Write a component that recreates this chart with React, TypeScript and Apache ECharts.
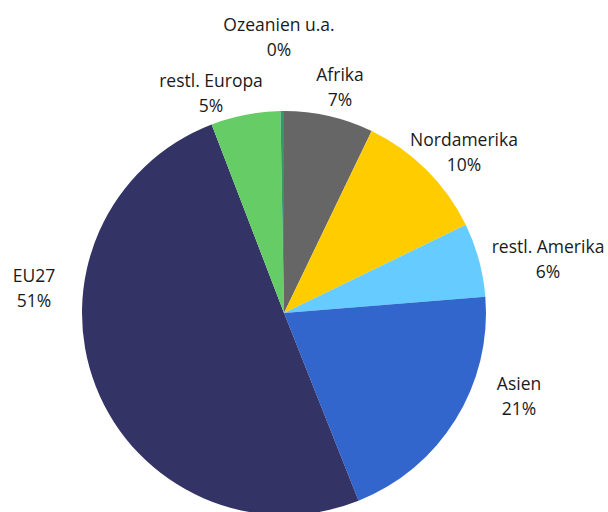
import React, { useEffect, useRef } from "react";
import * as echarts from "echarts";

const regions = ["Afrika", "Nordamerika", "restl. Amerika", "Asien", "EU27", "restl. Europa", "Ozeanien u.a."];
const shares = [7.14, 10.67, 5.9, 20.27, 50.18, 5.55, 0.28];
const shownPct = [7, 10, 6, 21, 51, 5, 0];
const colors = ["#666666", "#FFCC00", "#66CCFF", "#3366CC", "#333366", "#66CC66", "#339966"];
const labelPos: [number, number][] = [
  [340, 86],
  [464, 151],
  [548, 258],
  [519, 395],
  [34, 287],
  [211, 92],
  [279, 36],
];

export default function App() {
  const ref = useRef<HTMLDivElement>(null);
  useEffect(() => {
    if (!ref.current) return;
    const chart = echarts.init(ref.current, null, { renderer: "svg" });
    chart.setOption({
      animation: false,
      backgroundColor: "#ffffff",
      series: [
        {
          type: "pie",
          center: [284, 313],
          radius: 202,
          startAngle: 90,
          clockwise: true,
          silent: true,
          avoidLabelOverlap: false,
          itemStyle: { borderWidth: 0 },
          label: {
            show: true,
            position: "outside",
            formatter: (p: any) => `${p.name}\n${shownPct[p.dataIndex]}%`,
            fontFamily: "Open Sans",
            fontSize: 17.5,
            lineHeight: 25,
            color: "#1a1a1a",
            align: "center",
          },
          labelLine: { show: false },
          labelLayout: (params: any) => ({
            x: labelPos[params.dataIndex][0],
            y: labelPos[params.dataIndex][1],
            align: "center",
            verticalAlign: "middle",
          }),
          data: regions.map((name, i) => ({
            name,
            value: shares[i],
            itemStyle: { color: colors[i] },
          })),
        },
      ],
    });
    return () => chart.dispose();
  }, []);
  return (
    <div
      ref={ref}
      style={{ position: "fixed", left: 0, top: 0, width: 608, height: 512 }}
    />
  );
}
